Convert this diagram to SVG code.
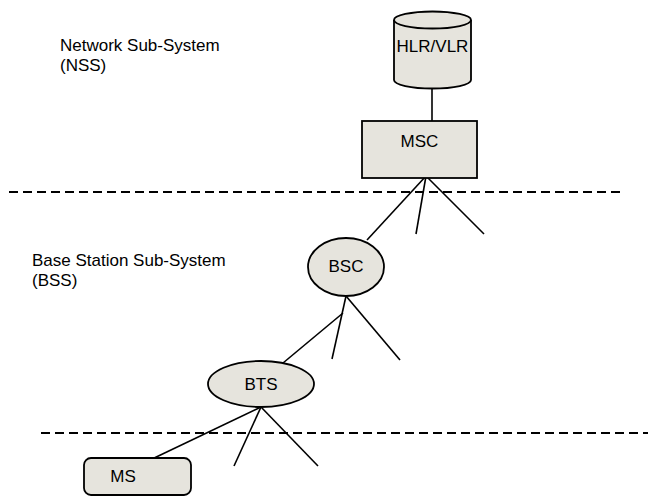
<svg xmlns="http://www.w3.org/2000/svg" width="648" height="500" viewBox="0 0 648 500">
  <style>
    .shape { fill: #e6e4dd; stroke: #000; stroke-width: 1.8; }
    .label { font-family: "Liberation Sans", Arial, sans-serif; font-size: 17px; fill: #000; }
    .node-text { font-family: "Liberation Sans", Arial, sans-serif; font-size: 17px; fill: #000; text-anchor: middle; }
    .link { stroke: #000; stroke-width: 1.6; fill: none; }
    .divider { stroke: #000; stroke-width: 2; stroke-dasharray: 9 5; fill: none; }
  </style>

  <!-- subsystem labels -->
  <g id="labels">
    <text class="label" x="60" y="51">Network Sub-System</text>
    <text class="label" x="60" y="71">(NSS)</text>
    <text class="label" x="32" y="266">Base Station Sub-System</text>
    <text class="label" x="32" y="286">(BSS)</text>
  </g>

  <!-- subsystem boundaries -->
  <g id="dividers">
    <line class="divider" x1="9" y1="192" x2="622" y2="192"/>
    <line class="divider" x1="41" y1="433" x2="648" y2="433"/>
  </g>

  <!-- connectors -->
  <g id="connectors">
    <line class="link" x1="432" y1="88" x2="432" y2="121"/>
    <line class="link" x1="426" y1="176" x2="367" y2="240"/>
    <line class="link" x1="426" y1="176" x2="416" y2="234"/>
    <line class="link" x1="426" y1="176" x2="484" y2="234"/>
    <line class="link" x1="346" y1="296" x2="332" y2="359"/>
    <line class="link" x1="346" y1="296" x2="400" y2="360"/>
    <line class="link" x1="343" y1="313" x2="283" y2="363"/>
    <line class="link" x1="261" y1="407" x2="150" y2="460"/>
    <line class="link" x1="261" y1="407" x2="234" y2="466"/>
    <line class="link" x1="261" y1="407" x2="318" y2="466"/>
  </g>

  <!-- HLR/VLR database -->
  <g id="hlr-vlr">
    <path class="shape" d="M394,20 L394,80 A38.5,8.5 0 0 0 471,80 L471,20"/>
    <ellipse class="shape" cx="432.5" cy="20" rx="38.5" ry="8.5"/>
    <text class="node-text" x="432.5" y="52">HLR/VLR</text>
  </g>

  <!-- MSC -->
  <g id="msc">
    <rect class="shape" x="362" y="121" width="115" height="57"/>
    <text class="node-text" x="419.5" y="147">MSC</text>
  </g>

  <!-- BSC -->
  <g id="bsc">
    <ellipse class="shape" cx="346" cy="267" rx="38" ry="29"/>
    <text class="node-text" x="346" y="272">BSC</text>
  </g>

  <!-- BTS -->
  <g id="bts">
    <ellipse class="shape" cx="261" cy="384" rx="53" ry="23"/>
    <text class="node-text" x="261" y="390">BTS</text>
  </g>

  <!-- MS -->
  <g id="ms">
    <rect class="shape" x="84" y="458" width="107" height="37" rx="7"/>
    <text class="node-text" x="123" y="482">MS</text>
  </g>
</svg>
